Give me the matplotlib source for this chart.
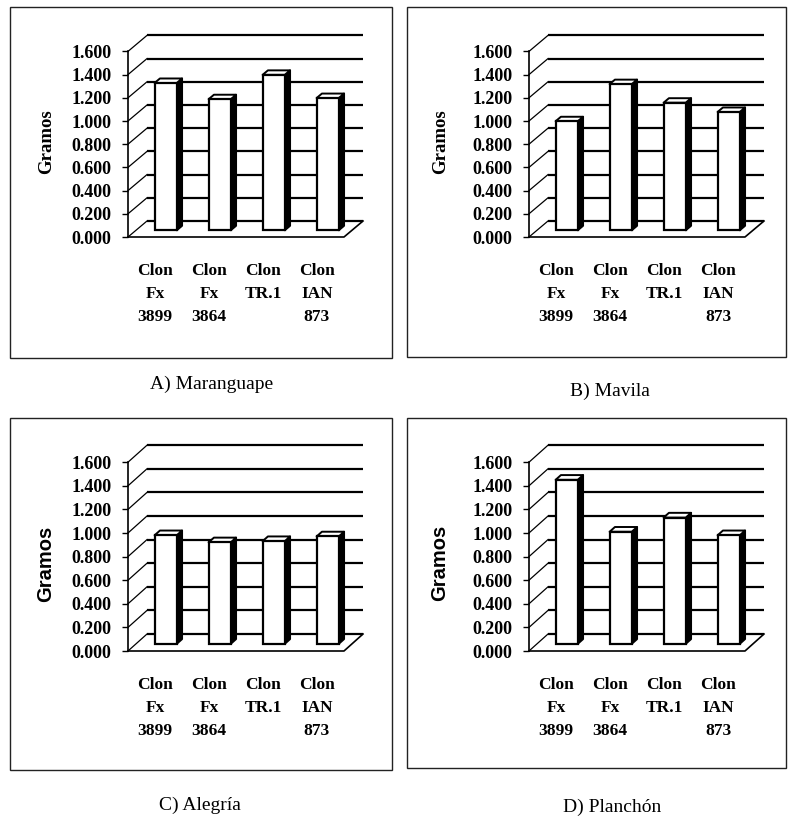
import matplotlib
matplotlib.use("Agg")
import matplotlib.pyplot as plt
from matplotlib.patches import Polygon, Rectangle
import numpy as np

# ---------------- data ----------------
categories = ["Clon\nFx\n3899", "Clon\nFx\n3864", "Clon\nTR.1", "Clon\nIAN\n873"]
maranguape = [1.27, 1.13, 1.34, 1.14]
mavila = [0.94, 1.26, 1.10, 1.02]
alegria = [0.92, 0.86, 0.87, 0.91]
planchon = [1.39, 0.95, 1.07, 0.92]
ytick_values = [0.0, 0.2, 0.4, 0.6, 0.8, 1.0, 1.2, 1.4, 1.6]
ytick_labels = ["0.000", "0.200", "0.400", "0.600", "0.800", "1.000", "1.200", "1.400", "1.600"]
ylabel = "Gramos"
captions = ["A) Maranguape", "B) Mavila", "C) Alegría", "D) Planchón"]

W, H = 788, 818
fig = plt.figure(figsize=(W / 100, H / 100), dpi=100)

SERIF = "Liberation Serif"
SANS = "Liberation Sans"


def px2fig(x, y):
    return x / W, 1 - y / H


def draw_panel(values, origin, sy, ddy_px, frame, caption_xy, caption, gramos_xy, gramos_font, gramos_size):
    ox, oy = origin
    cw = 54.0
    ddx_px = 19.0
    n = len(values)
    ymax = ytick_values[-1]
    ddx = ddx_px / cw
    ddy = ddy_px / sy
    w_px = n * cw + ddx_px
    h_px = ymax * sy + ddy_px
    ax = fig.add_axes([ox / W, (H - oy) / H, w_px / W, h_px / H])
    ax.set_xlim(0, n + ddx)
    ax.set_ylim(0, ymax + ddy)
    ax.patch.set_visible(False)
    for s in ["top", "right", "bottom"]:
        ax.spines[s].set_visible(False)
    ax.spines["left"].set_bounds(0, ymax)
    ax.spines["left"].set_linewidth(1.2)
    ax.spines["left"].set_clip_on(False)

    lw_grid = 1.6
    # back wall gridlines and side-wall diagonals
    for v in ytick_values:
        ax.plot([ddx, n + ddx], [v + ddy, v + ddy], color="black", lw=lw_grid,
                solid_capstyle="butt", clip_on=False, zorder=1)
        ax.plot([0, ddx], [v, v + ddy], color="black", lw=0.9, clip_on=False, zorder=1)
    # floor front and right edges
    ax.plot([0, n, n + ddx], [0, 0, ddy], color="black", lw=1.2, clip_on=False, zorder=1)

    # bars (mid depth)
    d0, d1 = 0.42, 0.70
    bw = 0.41
    sx = (d1 - d0) * ddx
    sdy = (d1 - d0) * ddy
    for i, v in enumerate(values):
        xc = i + 0.5 + d0 * ddx + 0.05
        b = d0 * ddy
        xl, xr = xc - bw / 2, xc + bw / 2
        side = Polygon([(xr, b), (xr, b + v), (xr + sx, b + v + sdy), (xr + sx, b + sdy)],
                       closed=True, facecolor="black", edgecolor="black", lw=1.4,
                       joinstyle="round", zorder=3, clip_on=False)
        ax.add_patch(side)
        top = Polygon([(xl, b + v), (xr, b + v), (xr + sx, b + v + sdy), (xl + sx, b + v + sdy)],
                      closed=True, facecolor="white", edgecolor="black", lw=1.4,
                      joinstyle="round", zorder=4, clip_on=False)
        ax.add_patch(top)
    ax.bar([i + 0.5 + d0 * ddx + 0.05 for i in range(n)], values, width=bw, bottom=d0 * ddy,
           color="white", edgecolor="black", linewidth=1.6, zorder=5, clip_on=False)

    ax.set_yticks(ytick_values)
    ax.set_yticklabels(ytick_labels, fontfamily=SERIF, fontweight="bold", fontsize=13)
    ax.tick_params(axis="y", direction="out", length=4, width=1.0, pad=8)
    ax.set_xticks([i + 0.5 for i in range(n)])
    ax.set_xticklabels(categories, fontfamily=SERIF, fontweight="bold", fontsize=12.5,
                       linespacing=1.58, va="top")
    ax.tick_params(axis="x", length=0, pad=19)

    gx, gy = px2fig(*gramos_xy)
    fig.text(gx, gy, ylabel, rotation=90, ha="center", va="center",
             fontfamily=gramos_font, fontweight="bold", fontsize=gramos_size)

    x0, y0, x1, y1 = frame
    fx0, fy1 = px2fig(x0, y1)
    fx1, fy0 = px2fig(x1, y0)
    fig.patches.append(Rectangle((fx0, fy1), fx1 - fx0, fy0 - fy1, transform=fig.transFigure,
                                 fill=False, edgecolor="#222222", lw=1.0))
    cx, cy = px2fig(*caption_xy)
    fig.text(cx, cy, caption, ha="center", va="center", fontfamily=SERIF, fontsize=14)


draw_panel(maranguape, (128, 237), 116, 16, (10, 7, 392, 358), (212, 384), captions[0], (47, 142), SERIF, 13.5)
draw_panel(mavila, (529, 237), 116, 16, (407, 7, 786, 357), (610, 391), captions[1], (441, 142), SERIF, 13.5)
draw_panel(alegria, (128, 651), 118, 17, (10, 418, 392, 770), (200, 805), captions[2], (46, 564), SANS, 14.5)
draw_panel(planchon, (529, 651), 118, 17, (407, 418, 786, 768), (612, 807), captions[3], (440, 563), SANS, 14.5)

fig.savefig("out.png", dpi=100, facecolor="white")
